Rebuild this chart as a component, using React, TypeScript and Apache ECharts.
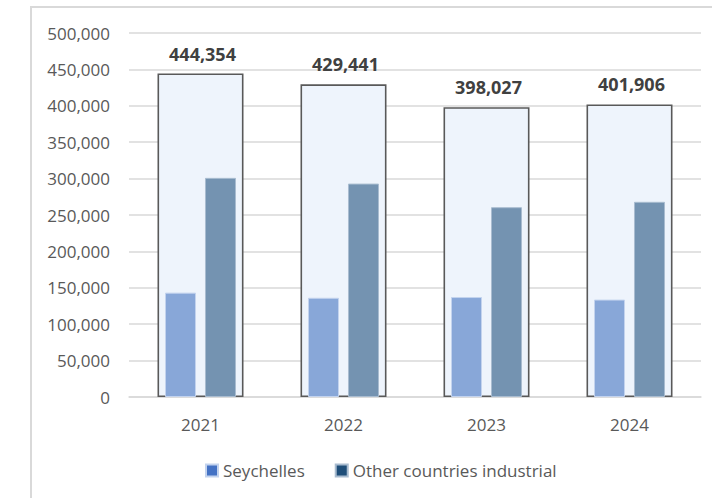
import React, { useEffect, useRef } from "react";
import * as echarts from "echarts";

const years = ["2021", "2022", "2023", "2024"];
const totals = [444354, 429441, 398027, 401906];
const seychelles = [143354, 136300, 137300, 133800];
const otherIndustrial = [301000, 293141, 260727, 268106];
const seriesNames = ["Seychelles", "Other countries industrial"];

const FONT = "'Open Sans', 'Noto Sans', sans-serif";
const fmt = (v: number) => v.toLocaleString("en-US");

export default function App() {
  const ref = useRef<HTMLDivElement>(null);
  useEffect(() => {
    if (!ref.current) return;
    const chart = echarts.init(ref.current, undefined, { renderer: "svg" });
    chart.setOption({
      animation: false,
      backgroundColor: "#ffffff",
      textStyle: { fontFamily: FONT },
      graphic: [
        {
          type: "rect",
          shape: { x: 31, y: 7, width: 760, height: 560 },
          style: { fill: "none", stroke: "#d9d9d9", lineWidth: 2 },
          silent: true,
          z: -10,
        },
      ],
      grid: { left: 129, right: 11, top: 33, bottom: 101, containLabel: false },
      legend: {
        data: [
          { name: seriesNames[0], itemStyle: { color: "#4472c4" } },
          { name: seriesNames[1], itemStyle: { color: "#1f4e79" } },
        ],
        top: 457,
        left: 200,
        icon: "rect",
        itemWidth: 12,
        itemHeight: 12,
        itemGap: 30,
        textStyle: { color: "#595959", fontSize: 17, fontFamily: FONT },
      },
      xAxis: [
        {
          type: "category",
          data: years,
          axisLine: { show: true, lineStyle: { color: "#d9d9d9", width: 1.5 } },
          axisTick: { show: false },
          axisLabel: { color: "#595959", fontSize: 17, margin: 19, fontFamily: FONT },
        },
        {
          type: "category",
          data: years,
          show: false,
        },
      ],
      yAxis: {
        type: "value",
        min: 0,
        max: 500000,
        interval: 50000,
        axisLine: { show: false },
        axisTick: { show: false },
        axisLabel: {
          color: "#595959",
          fontSize: 17,
          margin: 19,
          fontFamily: FONT,
          formatter: (v: number) => fmt(v),
        },
        splitLine: { lineStyle: { color: "#d9d9d9", width: 1.5 } },
      },
      series: [
        {
          name: "Total",
          type: "bar",
          xAxisIndex: 1,
          data: totals,
          barWidth: 86,
          z: 1,
          itemStyle: { color: "#eef4fc", borderColor: "#595959", borderWidth: 1.6 },
          label: {
            show: true,
            position: "top",
            distance: 11,
            offset: [2, 0],
            color: "#404040",
            fontWeight: "bold",
            fontSize: 18,
            fontFamily: FONT,
            formatter: (p: any) => fmt(p.value),
          },
        },
        {
          name: seriesNames[0],
          type: "bar",
          xAxisIndex: 0,
          data: seychelles,
          barWidth: 31,
          barGap: "29%",
          z: 3,
          itemStyle: { color: "#88a7d8", borderColor: "#c3d3ee", borderWidth: 1 },
        },
        {
          name: seriesNames[1],
          type: "bar",
          xAxisIndex: 0,
          data: otherIndustrial,
          barWidth: 31,
          barGap: "29%",
          z: 3,
          itemStyle: { color: "#7493b1", borderColor: "#a9bcd0", borderWidth: 1 },
        },
      ],
    });
    return () => chart.dispose();
  }, []);
  return (
    <div
      ref={ref}
      style={{ position: "fixed", left: 0, top: 0, width: 712, height: 498 }}
    />
  );
}
